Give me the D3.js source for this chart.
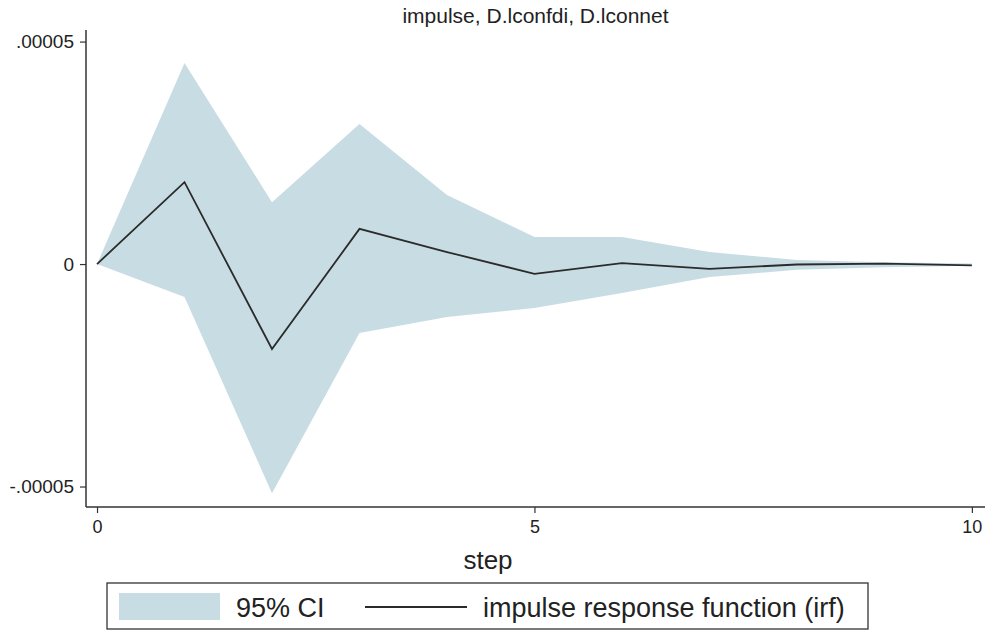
<!DOCTYPE html>
<html lang="en">
<head>
    <meta charset="UTF-8">
    <title>impulse, D.lconfdi, D.lconnet</title>
    <style>
      body { margin: 0; background: #fff; }
      text { font-family: "Liberation Sans", Arial, sans-serif; fill: #222; }
    </style>
</head>
<body>
  <script src="https://cdn.jsdelivr.net/npm/d3@7"></script>
  <div id="irfchart"></div>
  <script>

// data (values in units of 1e-5)
const steps = [0, 1, 2, 3, 4, 5, 6, 7, 8, 9, 10];
const irf   = [0, 1.84, -1.91, 0.79, 0.27, -0.22, 0.02, -0.11, -0.01, 0.01, -0.03];
const upper = [0, 4.52, 1.39, 3.15, 1.55, 0.61, 0.61, 0.27, 0.09, 0.04, 0.01];
const lower = [0, -0.74, -5.15, -1.55, -1.19, -0.99, -0.65, -0.29, -0.13, -0.07, -0.04];
const yTicks = [-0.00005, 0, 0.00005];
const yTickLabels = ["-.00005", "0", ".00005"];
const xTicks = [0, 5, 10];

const W = 990, H = 630;
const ciColor = "#c8dce3";

const svg = d3.select("#irfchart")
  .append("svg")
    .attr("width", W)
    .attr("height", H);

// plot region
const plot = {left: 86, right: 985, top: 30, bottom: 507};

const x = d3.scaleLinear()
  .domain([-0.126, 10.15])
  .range([plot.left, plot.right]);

const y = d3.scaleLinear()
  .domain([-0.0000546, 0.0000526])
  .range([plot.bottom, plot.top]);

const rows = steps.map((s, i) => ({step: s, irf: irf[i] * 1e-5, lo: lower[i] * 1e-5, hi: upper[i] * 1e-5}));

// CI band
svg.append("path")
  .datum(rows)
  .attr("fill", ciColor)
  .attr("d", d3.area()
    .x(d => x(d.step))
    .y0(d => y(d.lo))
    .y1(d => y(d.hi)));

// irf line
svg.append("path")
  .datum(rows)
  .attr("fill", "none")
  .attr("stroke", "#2b2b2b")
  .attr("stroke-width", 1.8)
  .attr("d", d3.line()
    .x(d => x(d.step))
    .y(d => y(d.irf)));

// Y axis
const yAxis = svg.append("g")
  .attr("transform", `translate(${plot.left}, 0)`)
  .call(d3.axisLeft(y)
    .tickValues(yTicks)
    .tickSize(6)
    .tickPadding(6)
    .tickFormat((d, i) => yTickLabels[i]));
yAxis.select(".domain").attr("d", `M0,${plot.top}V${plot.bottom}`).attr("stroke", "#333").attr("stroke-width", 1.5);
yAxis.selectAll(".tick line").attr("stroke", "#333").attr("stroke-width", 1.2);
yAxis.selectAll(".tick text").style("font-size", "19px").attr("fill", "#222");

// X axis
const xAxis = svg.append("g")
  .attr("transform", `translate(0, ${plot.bottom})`)
  .call(d3.axisBottom(x)
    .tickValues(xTicks)
    .tickSize(6)
    .tickPadding(7)
    .tickFormat(d3.format("d")));
xAxis.select(".domain").attr("d", `M${plot.left},0H${plot.right}`).attr("stroke", "#333").attr("stroke-width", 1.5);
xAxis.selectAll(".tick line").attr("stroke", "#333").attr("stroke-width", 1.2);
xAxis.selectAll(".tick text").style("font-size", "18px").attr("fill", "#222");

// title and axis title
svg.append("text")
  .attr("x", (plot.left + plot.right) / 2)
  .attr("y", 23)
  .attr("text-anchor", "middle")
  .style("font-size", "21px")
  .text("impulse, D.lconfdi, D.lconnet");

svg.append("text")
  .attr("x", 488)
  .attr("y", 569)
  .attr("text-anchor", "middle")
  .style("font-size", "26px")
  .text("step");

// Legend
const legend = svg.append("g");
legend.append("rect")
  .attr("x", 107).attr("y", 583)
  .attr("width", 761).attr("height", 46)
  .attr("fill", "#fff")
  .attr("stroke", "#333")
  .attr("stroke-width", 1.3);
legend.append("rect")
  .attr("x", 119).attr("y", 593)
  .attr("width", 101).attr("height", 27)
  .attr("fill", ciColor);
legend.append("text")
  .attr("x", 236).attr("y", 617)
  .style("font-size", "27px")
  .text("95% CI");
legend.append("line")
  .attr("x1", 365).attr("x2", 467)
  .attr("y1", 607).attr("y2", 607)
  .attr("stroke", "#2b2b2b")
  .attr("stroke-width", 1.8);
legend.append("text")
  .attr("x", 483).attr("y", 617)
  .style("font-size", "27px")
  .text("impulse response function (irf)");

  </script>
</body>
</html>
